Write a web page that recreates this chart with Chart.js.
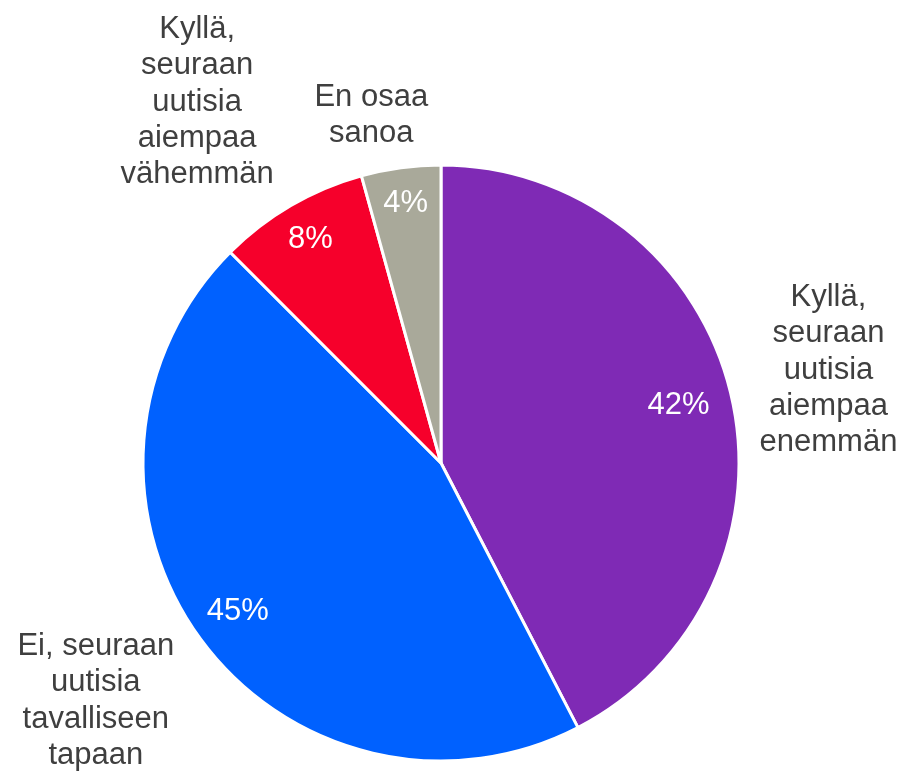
<!DOCTYPE html>
<html>
<head>
<meta charset="utf-8">
<script src="https://cdn.jsdelivr.net/npm/chart.js@4.4.1/dist/chart.umd.min.js"></script>
<style>
  html, body { margin: 0; padding: 0; background: #ffffff; }
  #wrap { width: 902px; height: 772px; position: relative; }
</style>
</head>
<body>
<div id="wrap"><canvas id="c" width="902" height="772"></canvas></div>
<script>
// ---- data ----
const categories = [
  ["Kyllä,", "seuraan", "uutisia", "aiempaa", "enemmän"],
  ["Ei, seuraan", "uutisia", "tavalliseen", "tapaan"],
  ["Kyllä,", "seuraan", "uutisia", "aiempaa", "vähemmän"],
  ["En osaa", "sanoa"]
];
const shares = [42.4, 45.1, 8.2, 4.3];
const percentLabels = ["42%", "45%", "8%", "4%"];
const sliceColors = ["#7F2AB5", "#0061FF", "#F6002B", "#A9A99A"];

// ---- label placement (style) ----
const outerDist = [1.337, 1.407, 1.462, 1.19];   // in radii
const outerShift = [0.2, 1.6, -3.8, -3.6];        // degrees
const innerDist = [0.82, 0.845, 0.87, 0.88];      // in radii

const labelPlugin = {
  id: 'pieLabels',
  afterDatasetsDraw(chart) {
    const ctx = chart.ctx;
    const meta = chart.getDatasetMeta(0);
    ctx.save();
    ctx.font = '31px "Liberation Sans", Arial, sans-serif';
    ctx.textAlign = 'center';
    ctx.textBaseline = 'middle';
    const lh = 36.3;
    meta.data.forEach((arc, i) => {
      const p = arc.getProps(['x', 'y', 'startAngle', 'endAngle', 'outerRadius'], true);
      const mid = (p.startAngle + p.endAngle) / 2;
      // inner percentage
      const ri = p.outerRadius * innerDist[i];
      ctx.fillStyle = '#ffffff';
      ctx.fillText(percentLabels[i], p.x + Math.cos(mid) * ri, p.y + Math.sin(mid) * ri);
      // outer category
      const a = mid + outerShift[i] * Math.PI / 180;
      const ro = p.outerRadius * outerDist[i];
      const cx = p.x + Math.cos(a) * ro;
      const cy = p.y + Math.sin(a) * ro;
      const lines = categories[i];
      ctx.fillStyle = '#3F3F3F';
      lines.forEach((t, k) => {
        ctx.fillText(t, cx, cy + (k - (lines.length - 1) / 2) * lh);
      });
    });
    ctx.restore();
  }
};

new Chart(document.getElementById('c'), {
  type: 'pie',
  data: {
    labels: categories.map(l => l.join(' ')),
    datasets: [{
      data: shares,
      backgroundColor: sliceColors,
      borderColor: '#ffffff',
      borderWidth: 3,
      hoverOffset: 0,
      radius: 298
    }]
  },
  options: {
    responsive: false,
    animation: false,
    events: [],
    layout: { padding: { left: 0, right: 20, top: 154, bottom: 0 } },
    plugins: {
      legend: { display: false },
      tooltip: { enabled: false },
      title: { display: false }
    }
  },
  plugins: [labelPlugin]
});
</script>
</body>
</html>
